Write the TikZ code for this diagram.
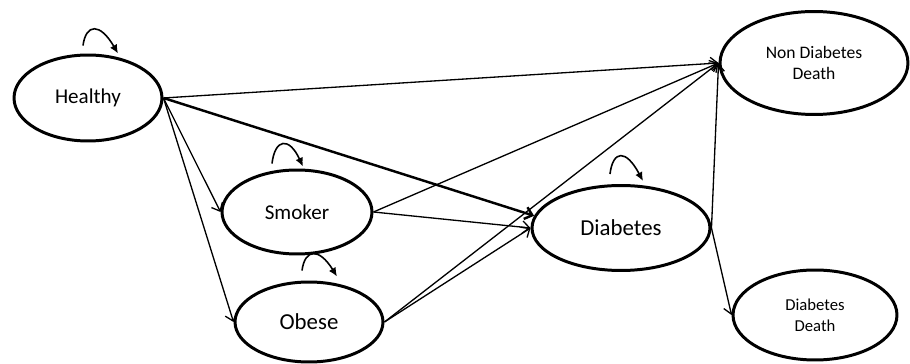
\documentclass[tikz,border=0pt]{standalone}
\usepackage{fontspec}
\setmainfont{Carlito}
\usetikzlibrary{shapes.geometric,arrows.meta,calc}
\begin{document}
\begin{tikzpicture}[x=0.02cm,y=-0.02cm]
\tikzset{>={Straight Barb[length=4pt,width=7pt]}}
\tikzset{state/.style={ellipse,draw,line width=1.7pt,inner sep=0pt,align=center}}
\tikzset{flow/.style={->,line width=0.75pt}}
\tikzset{selfloop/.style={-{Latex[length=5pt,width=4.5pt]},line width=0.9pt}}
\useasboundingbox (0,0) rectangle (910,364);

% states
\node[state,minimum width=2.96cm,minimum height=1.72cm,font=\fontsize{12}{14}\selectfont] (healthy) at (88,98) {Healthy};
\node[state,minimum width=3.0cm,minimum height=1.68cm,font=\fontsize{12}{14}\selectfont] (smoker) at (297,212) {Smoker};
\node[state,minimum width=2.96cm,minimum height=1.6cm,font=\fontsize{13}{15}\selectfont] (obese) at (309,322) {Obese};
\node[state,minimum width=3.56cm,minimum height=1.7cm,font=\fontsize{13}{15}\selectfont] (diabetes) at (621,228) {Diabetes};
\node[state,minimum width=3.76cm,minimum height=2.06cm,font=\fontsize{10}{11.5}\selectfont] (ndd) at (814,63) {Non Diabetes\\Death};
\node[state,minimum width=3.28cm,minimum height=1.8cm,font=\fontsize{9.5}{11.7}\selectfont] (dd) at (815,315) {Diabetes\\Death};

% transitions
\draw[flow] (healthy.east) -- (ndd.west);
\draw[flow,line width=1.4pt] (healthy.east) -- (diabetes.172);
\draw[flow] (healthy.east) -- (smoker.west);
\draw[flow] (healthy.east) -- (obese.west);
\draw[flow] (smoker.east) -- (ndd.west);
\draw[flow] (smoker.east) -- (diabetes.west);
\draw[flow] (obese.east) -- (ndd.west);
\draw[flow] (obese.east) -- (diabetes.west);
\draw[flow] (diabetes.east) -- (ndd.west);
\draw[flow] (diabetes.east) -- (dd.west);

% stay in state
\draw[selfloop] ($(healthy.north)+(-5,-8)$) .. controls ($(healthy.north)+(-2,-30)$) and ($(healthy.north)+(12,-31)$) .. ($(healthy.north)+(30,0)$);
\draw[selfloop] ($(smoker.north)+(-25,-5)$) .. controls ($(smoker.north)+(-22,-30)$) and ($(smoker.north)+(-8,-32)$) .. ($(smoker.north)+(6,-2)$);
\draw[selfloop] ($(obese.north)+(-7,-10)$) .. controls ($(obese.north)+(-4,-32)$) and ($(obese.north)+(10,-33)$) .. ($(obese.north)+(28,-4)$);
\draw[selfloop] ($(diabetes.north)+(-11,-10)$) .. controls ($(diabetes.north)+(-8,-34)$) and ($(diabetes.north)+(5,-35)$) .. ($(diabetes.north)+(22,-3)$);

\end{tikzpicture}
\end{document}
